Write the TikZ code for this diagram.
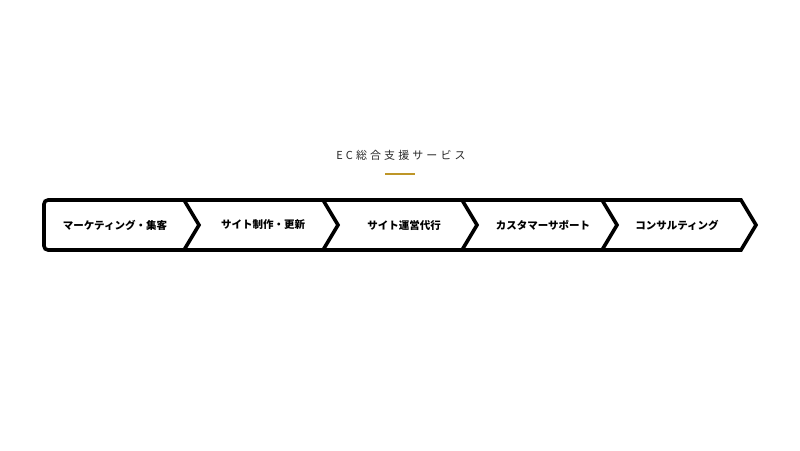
\documentclass[tikz,border=0pt]{standalone}
\usepackage{fontspec}
\usepackage{xcolor}
\newfontfamily\jpfont{Noto Sans CJK JP}
\definecolor{gold}{RGB}{190,150,40}
\definecolor{titlegray}{RGB}{40,40,40}
\begin{document}
\begin{tikzpicture}[x=1pt,y=-1pt,
  label/.style={font=\jpfont\bfseries\fontsize{10.5}{12}\selectfont},
  band/.style={line width=3.6pt,line join=miter}]
  \useasboundingbox[fill=white] (0,0) rectangle (800,450);
  % title and rule
  \node (title) at (401,155) {\jpfont\addfontfeature{LetterSpace=28}\fontsize{11}{13}\selectfont\color{titlegray}EC総合支援サービス};
  \coordinate (ruleL) at (385,174);
  \coordinate (ruleR) at (415,174);
  \draw [gold,line width=1.3pt] (ruleL)--(ruleR);
  % outline
  \draw [band,rounded corners=4pt] (184,200) -- (44,200) -- (44,250) -- (184,250);
  \draw [band] (184,200) -- (741,200) -- (756,225) -- (741,250) -- (184,250);
  \draw [band] (184,200) -- (199,225) -- (184,250);
  \draw [band] (323,200) -- (338,225) -- (323,250);
  \draw [band] (462,200) -- (477,225) -- (462,250);
  \draw [band] (602,200) -- (617,225) -- (602,250);
  % steps
  \node [label] (s1) at (115,225) {マーケティング・集客};
  \node [label] (s2) at (263,225) {サイト制作・更新};
  \node [label] (s3) at (404,225) {サイト運営代行};
  \node [label] (s4) at (543,225) {カスタマーサポート};
  \node [label] (s5) at (677,225) {コンサルティング};
\end{tikzpicture}
\end{document}
